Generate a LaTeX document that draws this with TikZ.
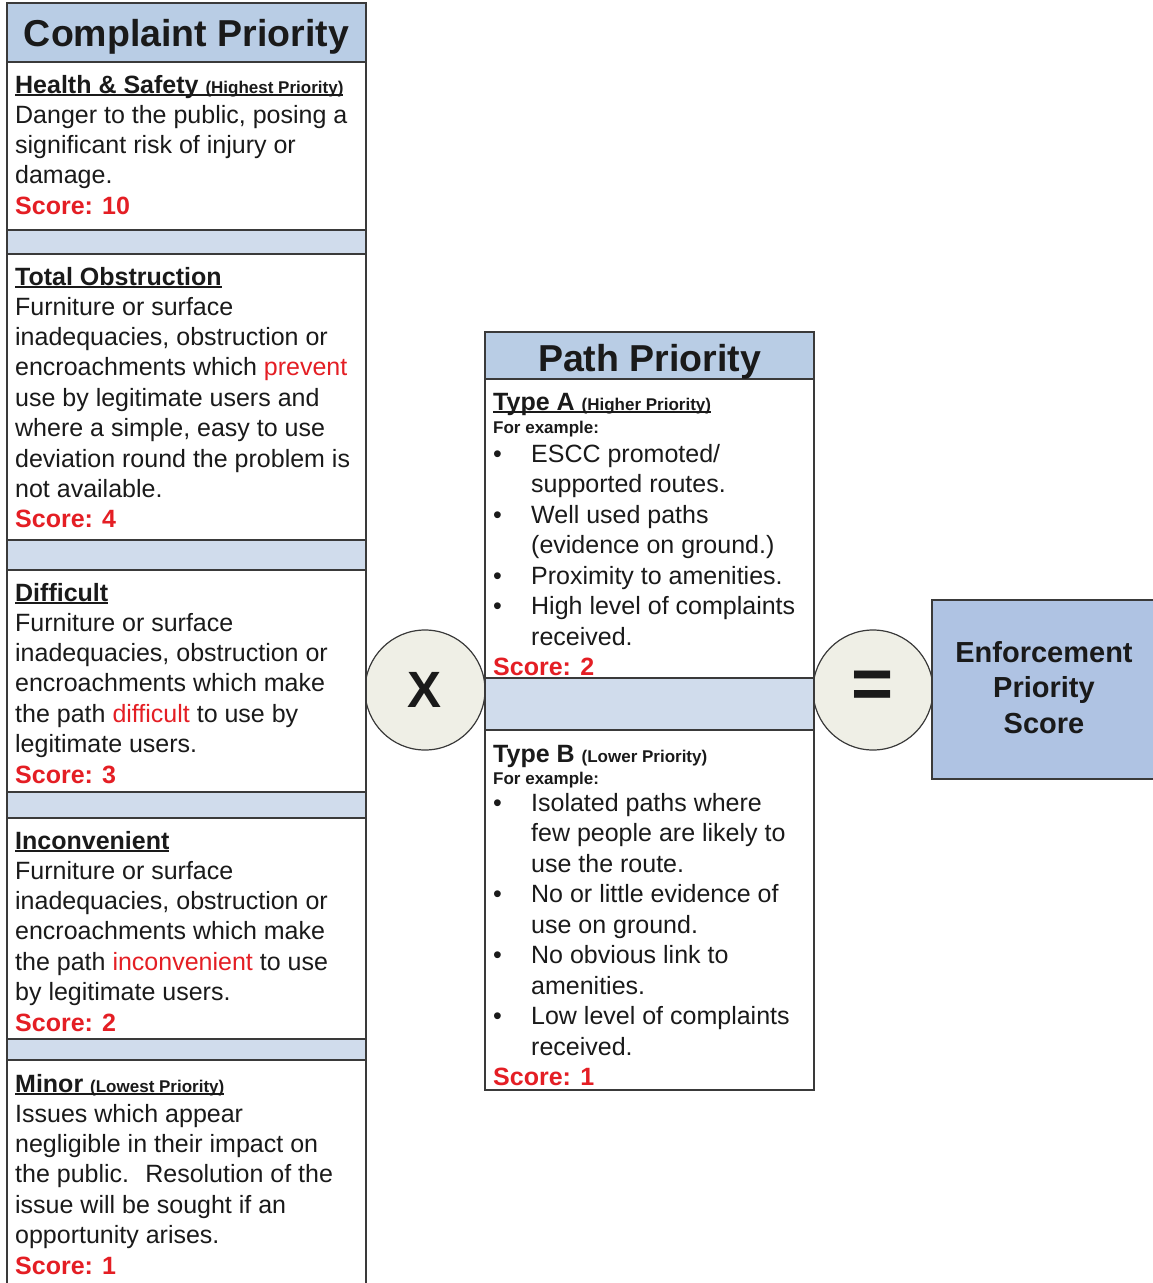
\documentclass[tikz,border=0pt]{standalone}
\usepackage{fontspec}
\setmainfont{Liberation Sans}
\definecolor{hdr}{HTML}{B9CDE5}
\definecolor{spc}{HTML}{D0DCEC}
\definecolor{enf}{HTML}{AFC3E3}
\definecolor{circ}{HTML}{EFEFE6}
\definecolor{txt}{HTML}{1A1A1A}
\definecolor{scr}{HTML}{E41E24}
\definecolor{edge}{HTML}{3A3A3A}
\newcommand\ulx[1]{\setbox0\hbox{#1}\rlap{\color{txt}\rule[-3pt]{\wd0}{1.6pt}}\box0}
\newcommand\rd[1]{\textcolor{scr}{#1}}
\newcommand\scoreline[1]{\textcolor{scr}{\bfseries Score: #1}}
\newcommand\smb{\fontsize{17}{20}\selectfont}
\newcommand\bul[1]{\makebox[38pt][l]{•}#1}
\newcommand\cont[1]{\hspace*{38pt}#1}
\tikzset{
  boxw/.style={draw=edge, line width=1.6pt, fill=white},
  boxh/.style={draw=edge, line width=1.6pt, fill=hdr},
  boxs/.style={draw=edge, line width=1.6pt, fill=spc},
  ttl/.style={font=\fontsize{37.5}{40}\selectfont\bfseries, text=txt, anchor=base, inner sep=0},
  hd/.style={font=\fontsize{25}{30}\selectfont\bfseries, text=txt, anchor=base west, inner sep=0},
  bodyl/.style={font=\fontsize{25}{30.4}\selectfont, text=txt, anchor=base west, inner sep=0},
  bodym/.style={font=\fontsize{25}{30.5}\selectfont, text=txt, anchor=base west, inner sep=0},
  fex/.style={font=\smb\bfseries, text=txt, anchor=base west, inner sep=0},
  opc/.style={circle, draw=edge, line width=1.2pt, fill=circ, minimum size=120pt, inner sep=0, text=txt},
}
\begin{document}
\begin{tikzpicture}[x=1pt,y=-1pt]
\useasboundingbox (0,0) rectangle (1153,1283);
\clip (0,0) rectangle (1153,1283);
% operator circles
\node[opc, font=\fontsize{51}{51}\selectfont\bfseries] (times) at (425,690) {X};
\node[opc, font=\fontsize{72}{72}\selectfont\bfseries] (equals) at (873,690) {=};
% left column
\draw[boxh] (7,3) rectangle (366,62);
\draw[boxw] (7,62) rectangle (366,230);
\draw[boxs] (7,230) rectangle (366,254);
\draw[boxw] (7,254) rectangle (366,540);
\draw[boxs] (7,540) rectangle (366,570);
\draw[boxw] (7,570) rectangle (366,792);
\draw[boxs] (7,792) rectangle (366,818);
\draw[boxw] (7,818) rectangle (366,1039);
\draw[boxs] (7,1039) rectangle (366,1060);
\draw[boxw] (7,1060) rectangle (366,1295);
\node[ttl] (cptitle) at (186.5,46) {Complaint Priority};
\node[hd] (hs) at (15,93) {\ulx{Health \& Safety \smb(Highest Priority)}};
\node[bodyl] (hsb) at (15,123) {\begin{tabular}[t]{@{}l@{}}
Danger to the public, posing a\\
significant risk of injury or\\
damage.\\
\scoreline{10}
\end{tabular}};
\node[hd] (to) at (15,285) {\ulx{Total Obstruction}};
\node[bodyl] (tob) at (15,315) {\begin{tabular}[t]{@{}l@{}}
Furniture or surface\\
inadequacies, obstruction or\\
encroachments which \rd{prevent}\\
use by legitimate users and\\
where a simple, easy to use\\
deviation round the problem is\\
not available.\\
\scoreline{4}
\end{tabular}};
\node[hd] (df) at (15,601) {\ulx{Difficult}};
\node[bodyl] (dfb) at (15,631) {\begin{tabular}[t]{@{}l@{}}
Furniture or surface\\
inadequacies, obstruction or\\
encroachments which make\\
the path \rd{difficult} to use by\\
legitimate users.\\
\scoreline{3}
\end{tabular}};
\node[hd] (ic) at (15,849) {\ulx{Inconvenient}};
\node[bodyl] (icb) at (15,879) {\begin{tabular}[t]{@{}l@{}}
Furniture or surface\\
inadequacies, obstruction or\\
encroachments which make\\
the path \rd{inconvenient} to use\\
by legitimate users.\\
\scoreline{2}
\end{tabular}};
\node[hd] (mn) at (15,1092) {\ulx{Minor \smb(Lowest Priority)}};
\node[bodyl] (mnb) at (15,1122) {\begin{tabular}[t]{@{}l@{}}
Issues which appear\\
negligible in their impact on\\
the public.~ Resolution of the\\
issue will be sought if an\\
opportunity arises.\\
\scoreline{1}
\end{tabular}};
% middle column
\draw[boxh] (485,332) rectangle (814,379);
\draw[boxw] (485,379) rectangle (814,678);
\draw[boxs] (485,678) rectangle (814,730);
\draw[boxw] (485,730) rectangle (814,1090);
\node[ttl] (pptitle) at (649.5,371) {Path Priority};
\node[hd] (ta) at (493,410) {\ulx{Type A \smb(Higher Priority)}};
\node[fex] (tafe) at (493,433) {For example:};
\node[bodym] (tab) at (493,462) {\begin{tabular}[t]{@{}l@{}}
\bul{ESCC promoted/}\\
\cont{supported routes.}\\
\bul{Well used paths}\\
\cont{(evidence on ground.)}\\
\bul{Proximity to amenities.}\\
\bul{High level of complaints}\\
\cont{received.}\\
\scoreline{2}
\end{tabular}};
\node[hd] (tb) at (493,762) {Type B \smb(Lower Priority)};
\node[fex] (tbfe) at (493,784) {For example:};
\node[bodym] (tbb) at (493,811) {\begin{tabular}[t]{@{}l@{}}
\bul{Isolated paths where}\\
\cont{few people are likely to}\\
\cont{use the route.}\\
\bul{No or little evidence of}\\
\cont{use on ground.}\\
\bul{No obvious link to}\\
\cont{amenities.}\\
\bul{Low level of complaints}\\
\cont{received.}\\
\scoreline{1}
\end{tabular}};
% result box
\draw[draw=edge, line width=1.6pt, fill=enf] (932,600) rectangle (1165,779);
\node[font=\fontsize{29}{35.5}\selectfont\bfseries, text=txt, anchor=base, inner sep=0] (eps) at (1044,662) {\begin{tabular}[t]{@{}c@{}}
Enforcement\\ Priority\\ Score
\end{tabular}};
\end{tikzpicture}
\end{document}
